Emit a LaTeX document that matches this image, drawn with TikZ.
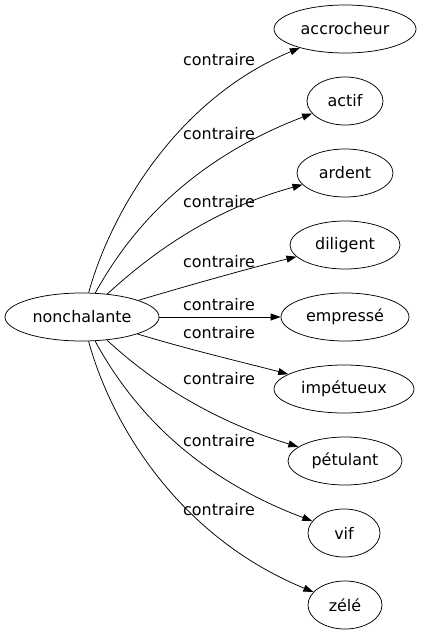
\documentclass[tikz,border=0pt]{standalone}
\usepackage{fontspec}
\setmainfont{DejaVu Sans}
\usetikzlibrary{shapes.geometric,arrows.meta}

\begin{document}
\begin{tikzpicture}[x=1bp,y=-1bp,line width=0.75bp,
    mot/.style={draw,ellipse,inner sep=0pt,minimum height=48bp,font=\fontsize{16}{18}\selectfont},
    rel/.style={-{Triangle[length=10bp,width=7bp]}},
    lbl/.style={font=\fontsize{16}{18}\selectfont}]
  \useasboundingbox (0,0) rectangle (421,635);
  % Source word
  \node[mot,minimum width=154bp] (nonch) at (82,317) {nonchalante};
  % Opposite words
  \node[mot,minimum width=142bp] (accro) at (345,29) {accrocheur};
  \node[mot,minimum width=76bp] (actif) at (345,101) {actif};
  \node[mot,minimum width=96bp] (ardent) at (345,173) {ardent};
  \node[mot,minimum width=110bp] (dilig) at (345,245) {diligent};
  \node[mot,minimum width=128bp] (empre) at (345,317) {empressé};
  \node[mot,minimum width=140bp] (impet) at (344,389) {impétueux};
  \node[mot,minimum width=114bp] (petul) at (345,461) {pétulant};
  \node[mot,minimum width=72bp] (vif) at (344,533) {vif};
  \node[mot,minimum width=74bp] (zele) at (345,605) {zélé};
  % Edges
  \draw[rel] (nonch) .. controls (110,215) and (175,100) .. (accro);
  \draw[rel] (nonch) .. controls (130,230) and (190,160) .. (actif);
  \draw[rel] (nonch) .. controls (150,255) and (210,210) .. (ardent);
  \draw[rel] (nonch) .. controls (190,285) and (250,268) .. (dilig);
  \draw[rel] (nonch) -- (empre);
  \draw[rel] (nonch) .. controls (190,350) and (250,364) .. (impet);
  \draw[rel] (nonch) .. controls (150,380) and (210,420) .. (petul);
  \draw[rel] (nonch) .. controls (130,405) and (190,475) .. (vif);
  \draw[rel] (nonch) .. controls (110,420) and (175,535) .. (zele);
  % Labels
  \node[lbl] (l1) at (219,60) {contraire};
  \node[lbl] (l2) at (219,134) {contraire};
  \node[lbl] (l3) at (219,202) {contraire};
  \node[lbl] (l4) at (219,262) {contraire};
  \node[lbl] (l5) at (219,305) {contraire};
  \node[lbl] (l6) at (219,333) {contraire};
  \node[lbl] (l7) at (219,379) {contraire};
  \node[lbl] (l8) at (219,441) {contraire};
  \node[lbl] (l9) at (219,510) {contraire};
\end{tikzpicture}
\end{document}
